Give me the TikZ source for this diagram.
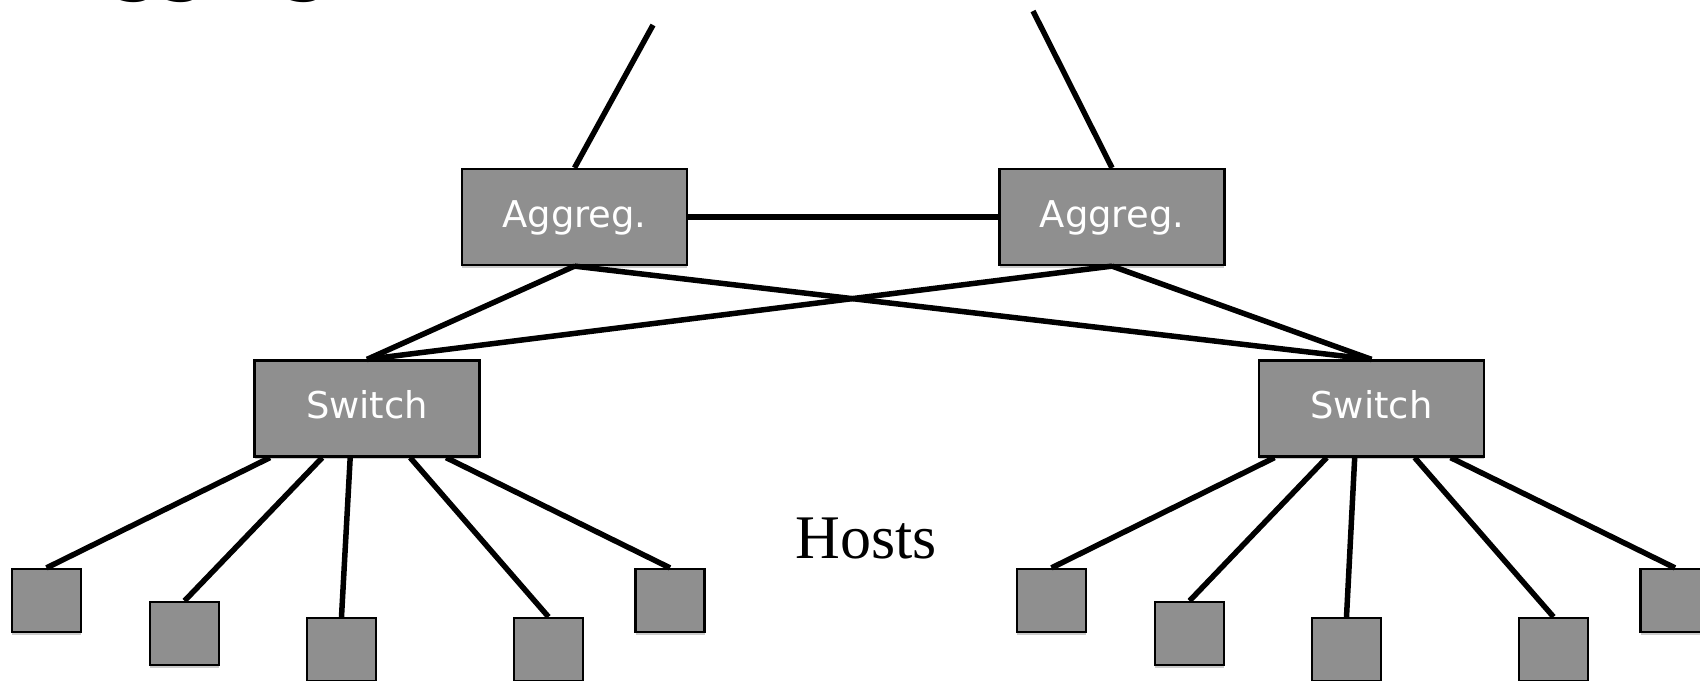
\documentclass[tikz,border=0pt]{standalone}
\usepackage{fontspec}
\setmainfont{Liberation Serif}
\newfontfamily\boxfont{DejaVu Sans}
\usetikzlibrary{calc,shadows}
\definecolor{boxgray}{RGB}{143,143,143}
\begin{document}
\begin{tikzpicture}[x=0.02cm,y=-0.02cm,
  link/.style={line width=0.11cm, draw=black},
  devbox/.style={draw=black, line width=0.045cm, fill=boxgray, inner sep=0pt,
    drop shadow={shadow xshift=0pt, shadow yshift=-0.06cm, opacity=0.2, fill=black}},
  bigbox/.style={devbox, minimum width=4.5cm, minimum height=1.92cm,
    font=\boxfont\fontsize{21pt}{21pt}\selectfont, text=white,
    text height=0.54cm, text depth=0.14cm},
  hostbox/.style={devbox, minimum width=1.38cm, minimum height=1.26cm}]
\useasboundingbox (0,0) rectangle (1700,680);
% title (cut off at the top)
\node[anchor=base west, inner sep=0pt, font=\boxfont\bfseries\fontsize{37.35pt}{40pt}\selectfont] (title) at (62,-12) {Aggregation};
% uplinks
\coordinate (topL) at (653,25);
\coordinate (topR) at (1033,11);
% devices
\node[bigbox] (aggL) at (574.5,217) {Aggreg.};
\node[bigbox] (aggR) at (1112,217) {Aggreg.};
\node[bigbox] (swL) at (367,408.5) {Switch};
\node[bigbox] (swR) at (1371.5,408.5) {Switch};
\node[hostbox] (hL1) at (46.5,600.5) {};
\node[hostbox] (hL2) at (184.5,633.5) {};
\node[hostbox] (hL3) at (341.5,649.5) {};
\node[hostbox] (hL4) at (548.5,649.5) {};
\node[hostbox] (hL5) at (670,600.5) {};
\node[hostbox] (hR1) at (1051.5,600.5) {};
\node[hostbox] (hR2) at (1189.5,633.5) {};
\node[hostbox] (hR3) at (1346.5,649.5) {};
\node[hostbox] (hR4) at (1553.5,649.5) {};
\node[hostbox] (hR5) at (1675,600.5) {};
\node[anchor=base, inner sep=0pt, font=\fontsize{35.3pt}{36pt}\selectfont] (hostslabel) at (866,558) {Hosts};
% links
\draw[link] (aggL.north) -- (topL);
\draw[link] (aggR.north) -- (topR);
\draw[link] (aggL.east) -- (aggR.west);
\draw[link] (aggL.south) -- (swL.north);
\draw[link] (aggL.south) -- (swR.north);
\draw[link] (aggR.south) -- (swL.north);
\draw[link] (aggR.south) -- (swR.north);
\foreach \s in {L,R}{
  \foreach \f/\h in {0.073/1,0.303/2,0.426/3,0.69/4,0.848/5}{
    \draw[link] ($(sw\s.south west)!\f!(sw\s.south east)$) -- (h\s\h.north);
  }
}
\end{tikzpicture}
\end{document}
